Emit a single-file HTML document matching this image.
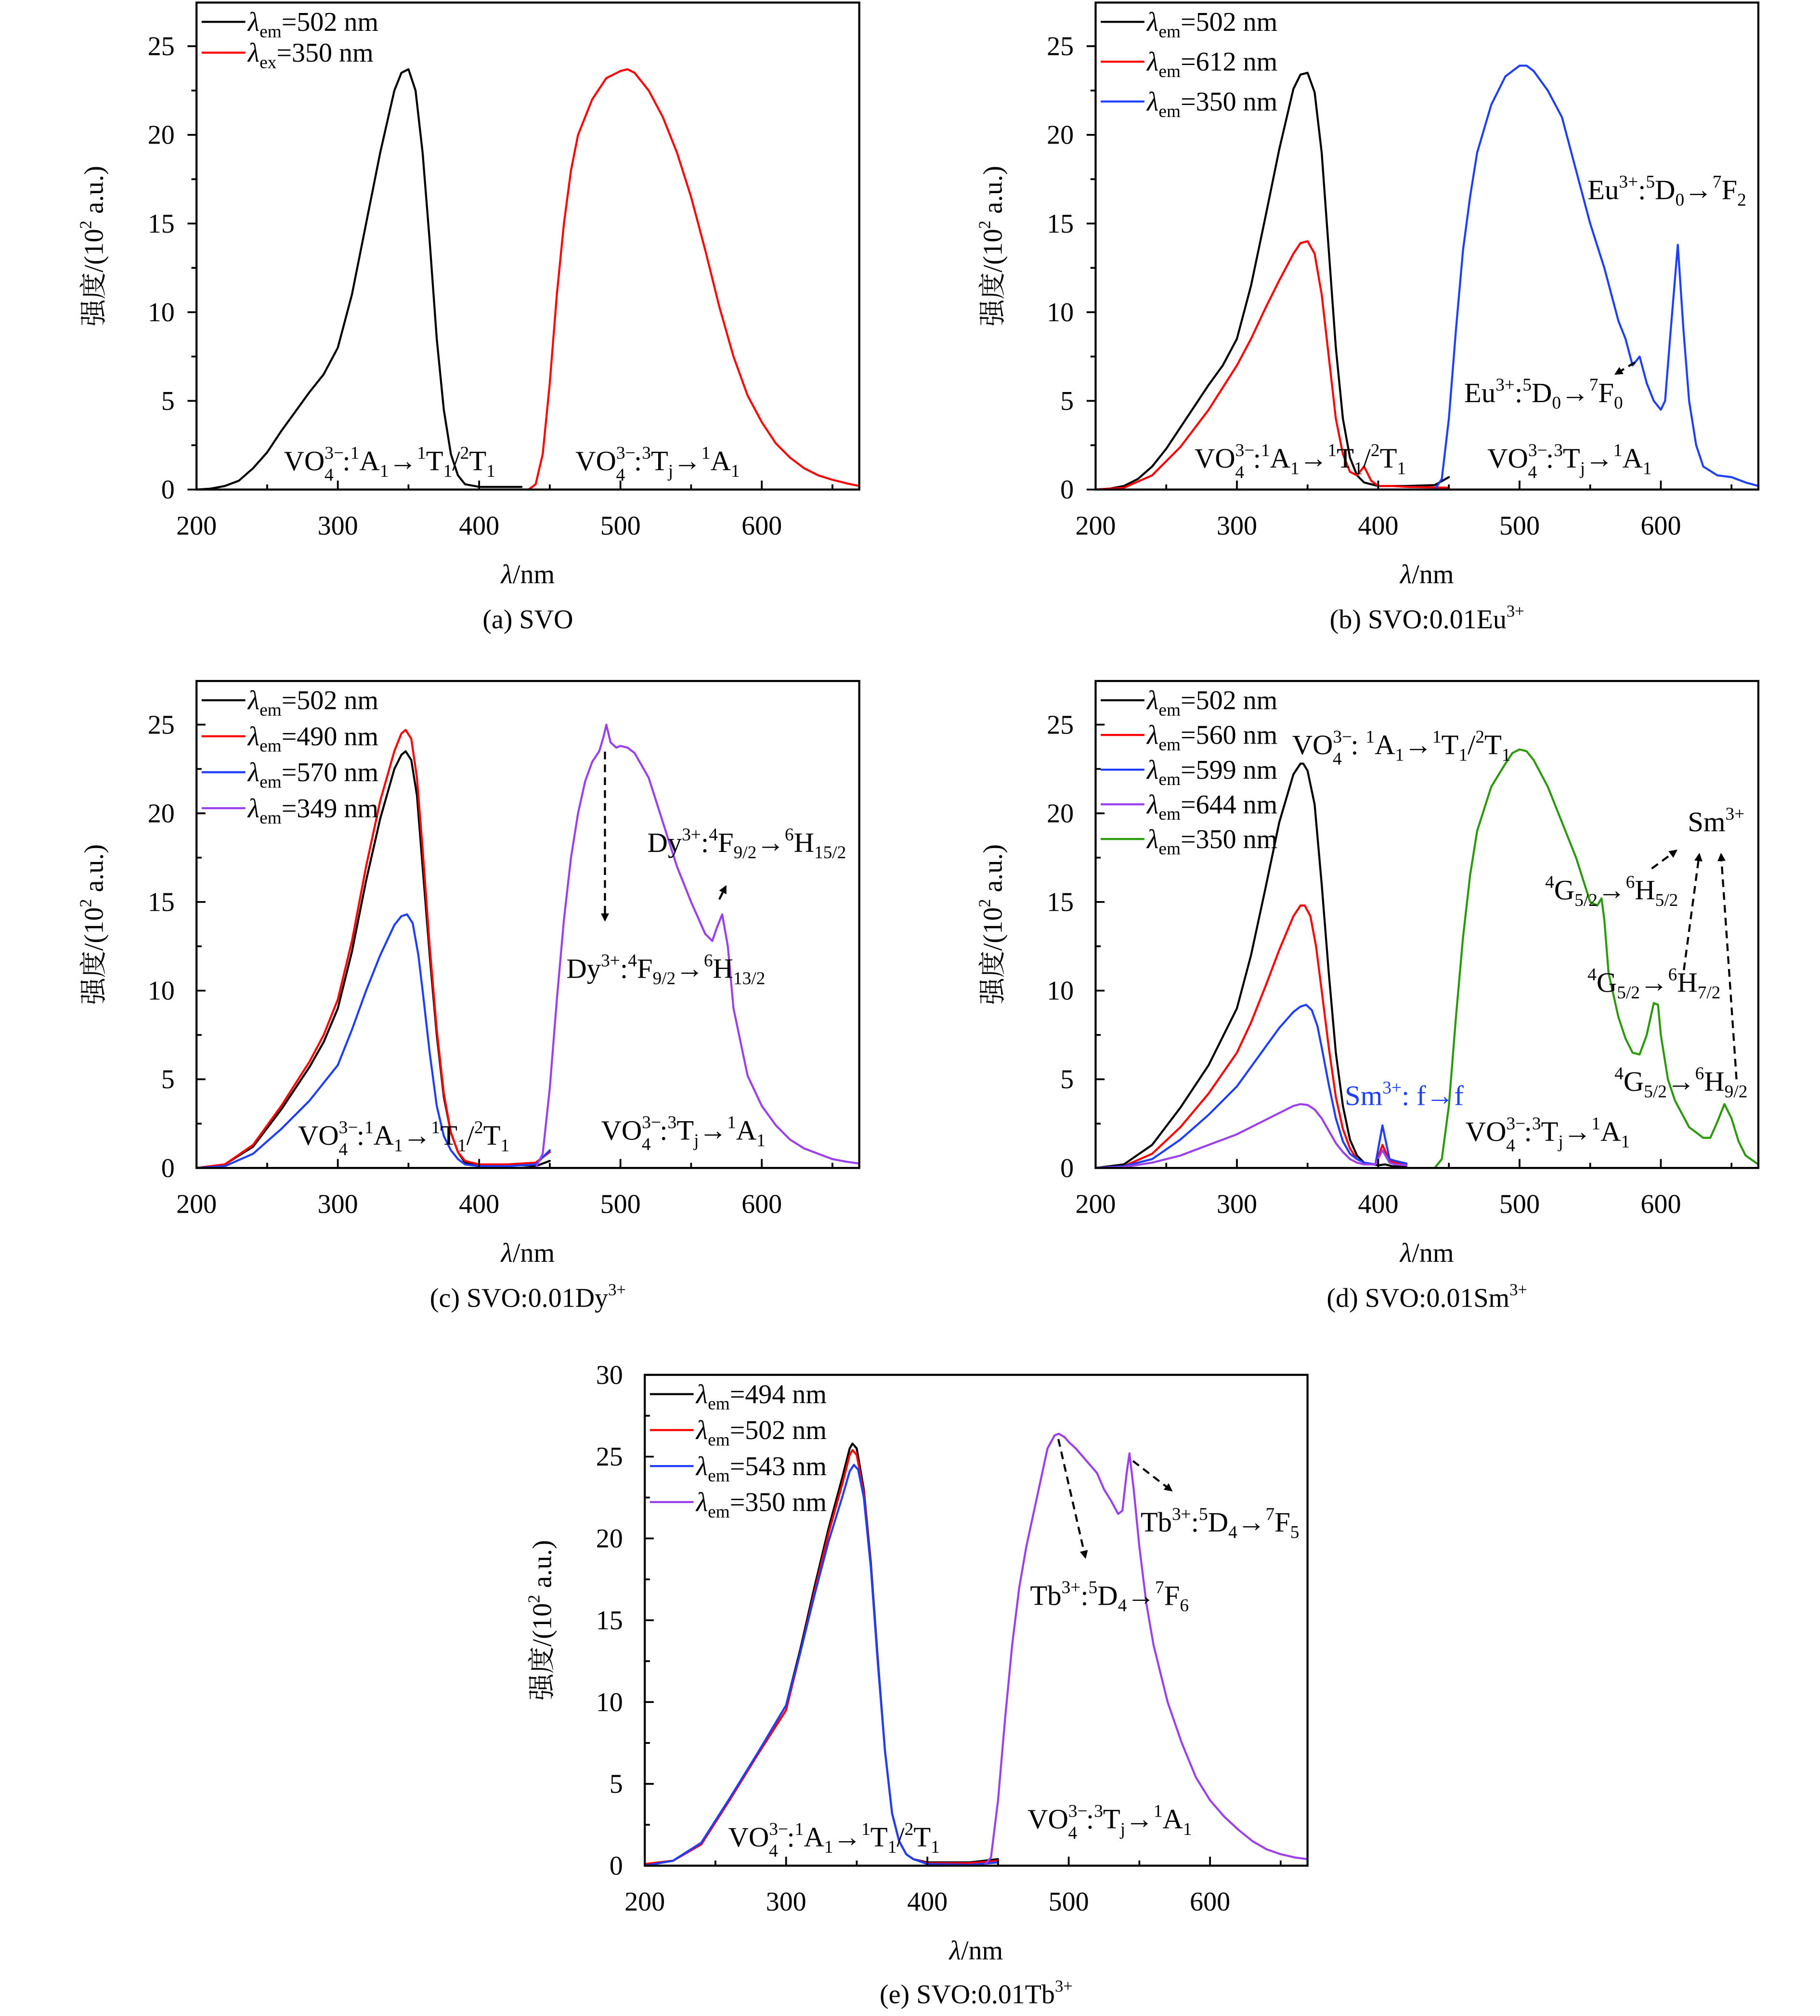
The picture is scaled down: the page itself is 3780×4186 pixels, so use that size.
<!DOCTYPE html>
<html><head><meta charset="utf-8">
<style>
html,body{margin:0;padding:0;background:#fff;}
svg{display:block;}
text{font-family:"Liberation Serif","Noto Serif CJK SC",serif;fill:#000;}
</style></head>
<body>
<svg id="fig" width="3780" height="4186" viewBox="0 0 1417 1569" preserveAspectRatio="none" xmlns="http://www.w3.org/2000/svg">
<defs>
<marker id="ah" viewBox="0 0 10 10" refX="8" refY="5" markerWidth="4" markerHeight="4" orient="auto"><path d="M0,0 L10,5 L0,10 z" fill="#000"/></marker>
</defs>
<g id="plots"></g>

<!-- static annotation text -->
<g font-size="22">
  <!-- panel a -->
  <text x="221" y="366">VO<tspan font-size="14" dy="-9">3−</tspan><tspan font-size="14" dx="-15" dy="17">4</tspan><tspan dx="7" dy="-8">:</tspan><tspan font-size="14" dy="-9">1</tspan><tspan dy="9">A</tspan><tspan font-size="14" dy="5">1</tspan><tspan dy="-5">→</tspan><tspan font-size="14" dy="-9">1</tspan><tspan dy="9">T</tspan><tspan font-size="14" dy="5">1</tspan><tspan dy="-5">/</tspan><tspan font-size="14" dy="-9">2</tspan><tspan dy="9">T</tspan><tspan font-size="14" dy="5">1</tspan></text>
  <text x="448" y="366">VO<tspan font-size="14" dy="-9">3−</tspan><tspan font-size="14" dx="-15" dy="17">4</tspan><tspan dx="7" dy="-8">:</tspan><tspan font-size="14" dy="-9">3</tspan><tspan dy="9">T</tspan><tspan font-size="14" dy="5">j</tspan><tspan dy="-5">→</tspan><tspan font-size="14" dy="-9">1</tspan><tspan dy="9">A</tspan><tspan font-size="14" dy="5">1</tspan></text>
  <!-- panel b -->
  <text x="930" y="364">VO<tspan font-size="14" dy="-9">3−</tspan><tspan font-size="14" dx="-15" dy="17">4</tspan><tspan dx="7" dy="-8">:</tspan><tspan font-size="14" dy="-9">1</tspan><tspan dy="9">A</tspan><tspan font-size="14" dy="5">1</tspan><tspan dy="-5">→</tspan><tspan font-size="14" dy="-9">1</tspan><tspan dy="9">T</tspan><tspan font-size="14" dy="5">1</tspan><tspan dy="-5">/</tspan><tspan font-size="14" dy="-9">2</tspan><tspan dy="9">T</tspan><tspan font-size="14" dy="5">1</tspan></text>
  <text x="1158" y="364">VO<tspan font-size="14" dy="-9">3−</tspan><tspan font-size="14" dx="-15" dy="17">4</tspan><tspan dx="7" dy="-8">:</tspan><tspan font-size="14" dy="-9">3</tspan><tspan dy="9">T</tspan><tspan font-size="14" dy="5">j</tspan><tspan dy="-5">→</tspan><tspan font-size="14" dy="-9">1</tspan><tspan dy="9">A</tspan><tspan font-size="14" dy="5">1</tspan></text>
  <text x="1236" y="155">Eu<tspan font-size="14" dy="-9">3+</tspan><tspan dy="9">:</tspan><tspan font-size="14" dy="-9">5</tspan><tspan dy="9">D</tspan><tspan font-size="14" dy="5">0</tspan><tspan dy="-5">→</tspan><tspan font-size="14" dy="-9">7</tspan><tspan dy="9">F</tspan><tspan font-size="14" dy="5">2</tspan></text>
  <text x="1140" y="313">Eu<tspan font-size="14" dy="-9">3+</tspan><tspan dy="9">:</tspan><tspan font-size="14" dy="-9">5</tspan><tspan dy="9">D</tspan><tspan font-size="14" dy="5">0</tspan><tspan dy="-5">→</tspan><tspan font-size="14" dy="-9">7</tspan><tspan dy="9">F</tspan><tspan font-size="14" dy="5">0</tspan></text>
  <!-- panel c -->
  <text x="232" y="891">VO<tspan font-size="14" dy="-9">3−</tspan><tspan font-size="14" dx="-15" dy="17">4</tspan><tspan dx="7" dy="-8">:</tspan><tspan font-size="14" dy="-9">1</tspan><tspan dy="9">A</tspan><tspan font-size="14" dy="5">1</tspan><tspan dy="-5">→</tspan><tspan font-size="14" dy="-9">1</tspan><tspan dy="9">T</tspan><tspan font-size="14" dy="5">1</tspan><tspan dy="-5">/</tspan><tspan font-size="14" dy="-9">2</tspan><tspan dy="9">T</tspan><tspan font-size="14" dy="5">1</tspan></text>
  <text x="468" y="887">VO<tspan font-size="14" dy="-9">3−</tspan><tspan font-size="14" dx="-15" dy="17">4</tspan><tspan dx="7" dy="-8">:</tspan><tspan font-size="14" dy="-9">3</tspan><tspan dy="9">T</tspan><tspan font-size="14" dy="5">j</tspan><tspan dy="-5">→</tspan><tspan font-size="14" dy="-9">1</tspan><tspan dy="9">A</tspan><tspan font-size="14" dy="5">1</tspan></text>
  <text x="504" y="663">Dy<tspan font-size="14" dy="-9">3+</tspan><tspan dy="9">:</tspan><tspan font-size="14" dy="-9">4</tspan><tspan dy="9">F</tspan><tspan font-size="14" dy="5">9/2</tspan><tspan dy="-5">→</tspan><tspan font-size="14" dy="-9">6</tspan><tspan dy="9">H</tspan><tspan font-size="14" dy="5">15/2</tspan></text>
  <text x="441" y="761">Dy<tspan font-size="14" dy="-9">3+</tspan><tspan dy="9">:</tspan><tspan font-size="14" dy="-9">4</tspan><tspan dy="9">F</tspan><tspan font-size="14" dy="5">9/2</tspan><tspan dy="-5">→</tspan><tspan font-size="14" dy="-9">6</tspan><tspan dy="9">H</tspan><tspan font-size="14" dy="5">13/2</tspan></text>
  <!-- panel d -->
  <text x="1006" y="587">VO<tspan font-size="14" dy="-9">3−</tspan><tspan font-size="14" dx="-15" dy="17">4</tspan><tspan dx="7" dy="-8">: </tspan><tspan font-size="14" dy="-9">1</tspan><tspan dy="9">A</tspan><tspan font-size="14" dy="5">1</tspan><tspan dy="-5">→</tspan><tspan font-size="14" dy="-9">1</tspan><tspan dy="9">T</tspan><tspan font-size="14" dy="5">1</tspan><tspan dy="-5">/</tspan><tspan font-size="14" dy="-9">2</tspan><tspan dy="9">T</tspan><tspan font-size="14" dy="5">1</tspan></text>
  <text x="1141" y="888">VO<tspan font-size="14" dy="-9">3−</tspan><tspan font-size="14" dx="-15" dy="17">4</tspan><tspan dx="7" dy="-8">:</tspan><tspan font-size="14" dy="-9">3</tspan><tspan dy="9">T</tspan><tspan font-size="14" dy="5">j</tspan><tspan dy="-5">→</tspan><tspan font-size="14" dy="-9">1</tspan><tspan dy="9">A</tspan><tspan font-size="14" dy="5">1</tspan></text>
  <text x="1047" y="860" fill="#1f3fff" style="fill:#1f3fff">Sm<tspan font-size="14" dy="-9">3+</tspan><tspan dy="9">: f→f</tspan></text>
  <text x="1314" y="647">Sm<tspan font-size="14" dy="-9">3+</tspan></text>
  <text x="1203" y="700"><tspan font-size="14" dy="-9">4</tspan><tspan dy="9">G</tspan><tspan font-size="14" dy="5">5/2</tspan><tspan dy="-5">→</tspan><tspan font-size="14" dy="-9">6</tspan><tspan dy="9">H</tspan><tspan font-size="14" dy="5">5/2</tspan></text>
  <text x="1236" y="772"><tspan font-size="14" dy="-9">4</tspan><tspan dy="9">G</tspan><tspan font-size="14" dy="5">5/2</tspan><tspan dy="-5">→</tspan><tspan font-size="14" dy="-9">6</tspan><tspan dy="9">H</tspan><tspan font-size="14" dy="5">7/2</tspan></text>
  <text x="1257" y="849"><tspan font-size="14" dy="-9">4</tspan><tspan dy="9">G</tspan><tspan font-size="14" dy="5">5/2</tspan><tspan dy="-5">→</tspan><tspan font-size="14" dy="-9">6</tspan><tspan dy="9">H</tspan><tspan font-size="14" dy="5">9/2</tspan></text>
  <!-- panel e -->
  <text x="567" y="1437">VO<tspan font-size="14" dy="-9">3−</tspan><tspan font-size="14" dx="-15" dy="17">4</tspan><tspan dx="7" dy="-8">:</tspan><tspan font-size="14" dy="-9">1</tspan><tspan dy="9">A</tspan><tspan font-size="14" dy="5">1</tspan><tspan dy="-5">→</tspan><tspan font-size="14" dy="-9">1</tspan><tspan dy="9">T</tspan><tspan font-size="14" dy="5">1</tspan><tspan dy="-5">/</tspan><tspan font-size="14" dy="-9">2</tspan><tspan dy="9">T</tspan><tspan font-size="14" dy="5">1</tspan></text>
  <text x="800" y="1423">VO<tspan font-size="14" dy="-9">3−</tspan><tspan font-size="14" dx="-15" dy="17">4</tspan><tspan dx="7" dy="-8">:</tspan><tspan font-size="14" dy="-9">3</tspan><tspan dy="9">T</tspan><tspan font-size="14" dy="5">j</tspan><tspan dy="-5">→</tspan><tspan font-size="14" dy="-9">1</tspan><tspan dy="9">A</tspan><tspan font-size="14" dy="5">1</tspan></text>
  <text x="888" y="1192">Tb<tspan font-size="14" dy="-9">3+</tspan><tspan dy="9">:</tspan><tspan font-size="14" dy="-9">5</tspan><tspan dy="9">D</tspan><tspan font-size="14" dy="5">4</tspan><tspan dy="-5">→</tspan><tspan font-size="14" dy="-9">7</tspan><tspan dy="9">F</tspan><tspan font-size="14" dy="5">5</tspan></text>
  <text x="802" y="1249">Tb<tspan font-size="14" dy="-9">3+</tspan><tspan dy="9">:</tspan><tspan font-size="14" dy="-9">5</tspan><tspan dy="9">D</tspan><tspan font-size="14" dy="5">4</tspan><tspan dy="-5">→</tspan><tspan font-size="14" dy="-9">7</tspan><tspan dy="9">F</tspan><tspan font-size="14" dy="5">6</tspan></text>
</g>

<g stroke="#000" stroke-width="1.6" stroke-dasharray="6,4" fill="none">
  <line x1="1273" y1="282" x2="1258" y2="291" marker-end="url(#ah)"/>
  <line x1="471" y1="585" x2="471" y2="716" marker-end="url(#ah)"/>
  <line x1="560" y1="700" x2="565" y2="690" marker-end="url(#ah)"/>
  <line x1="1286" y1="676" x2="1305" y2="662" marker-end="url(#ah)"/>
  <line x1="1311" y1="755" x2="1323" y2="665" marker-end="url(#ah)"/>
  <line x1="1352" y1="840" x2="1340" y2="665" marker-end="url(#ah)"/>
  <line x1="824" y1="1120" x2="845" y2="1212" marker-end="url(#ah)"/>
  <line x1="882" y1="1137" x2="912" y2="1160" marker-end="url(#ah)"/>
</g>
</svg>

<script>
// ---------- data ----------
const xTicks = [200, 300, 400, 500, 600];
const yTicksAD = [0, 5, 10, 15, 20, 25];
const yTicksE = [0, 5, 10, 15, 20, 25, 30];

// panel a
const aExcX = [200,210,220,230,240,250,260,270,280,290,300,310,320,330,340,345,350,355,360,365,370,375,380,385,390,400,430];
const aExcY = [0,0.05,0.2,0.5,1.2,2.1,3.3,4.4,5.5,6.5,8,11,15,19,22.5,23.5,23.7,22.5,19,14,8.5,4.5,2,0.8,0.3,0.15,0.15];
const aEmX = [400,435,440,445,450,455,460,465,470,480,490,500,505,510,520,530,540,550,560,570,580,590,600,610,620,630,640,650,660,669];
const aEmY = [0,0,0.3,2,6,11,15,18,20,22,23.2,23.6,23.7,23.5,22.5,21,19,16.5,13.5,10.3,7.5,5.3,3.8,2.6,1.8,1.2,0.8,0.55,0.35,0.2];

// panel b
const bBlkX = [200,210,220,230,240,250,260,270,280,290,300,310,320,330,340,345,350,355,360,365,370,375,380,385,390,400,420,440,450];
const bBlkY = [0,0.05,0.2,0.6,1.3,2.3,3.5,4.7,5.9,7,8.5,11.5,15.3,19.2,22.6,23.4,23.5,22.4,19,13.5,8,4,1.8,0.8,0.4,0.2,0.2,0.25,0.7];
const bRedX = [200,220,240,260,280,300,310,320,330,340,345,350,355,360,365,370,375,380,385,390,395,400,410,420,450];
const bRedY = [0,0.1,0.8,2.4,4.5,7,8.5,10.2,11.8,13.3,13.9,14,13.3,11,7.5,4,2,1,0.8,1.3,0.5,0.2,0.2,0.15,0.1];
const bBluX = [400,440,445,450,455,460,465,470,480,490,500,505,510,520,530,540,550,560,570,575,580,585,590,595,600,603,607,612,616,620,625,630,640,650,660,669];
const bBluY = [0,0,0.6,4,9,13.5,16.5,19,21.7,23.3,23.9,23.9,23.6,22.5,21,18,15,12.5,9.5,8.5,7,7.5,6,5,4.5,5,9,13.8,9,5,2.5,1.3,0.8,0.7,0.4,0.2];

// panel c
const cBlkX = [200,220,240,260,280,290,300,310,320,330,340,345,348,352,356,360,365,370,375,380,385,390,400,420,440,450];
const cBlkY = [0,0.2,1.2,3.3,5.7,7.1,9,12.2,16.2,19.7,22.5,23.3,23.5,23,21,17,12,7.5,4,2,0.9,0.3,0.1,0.2,0.1,0.4];
const cRedX = [200,220,240,260,280,290,300,310,320,330,340,345,348,352,356,360,365,370,375,380,385,390,400,420,440,450];
const cRedY = [0,0.2,1.3,3.5,6,7.5,9.5,12.8,17,20.7,23.5,24.5,24.7,24.2,22,18,12.5,7.8,4.2,2,0.9,0.4,0.2,0.2,0.3,0.9];
const cBluX = [200,220,240,260,280,300,310,320,330,340,345,349,353,357,360,365,370,375,380,385,390,400,420,440,450];
const cBluY = [0,0.1,0.8,2.2,3.8,5.8,7.8,10,12,13.7,14.2,14.3,13.8,12,10,6.5,3.5,1.8,1,0.5,0.2,0.1,0.1,0.2,1];
const cPurX = [400,440,445,450,455,460,465,470,475,480,485,488,490,493,497,500,505,510,520,530,540,550,560,565,568,572,576,580,590,600,610,620,630,640,650,660,669];
const cPurY = [0,0,0.8,4.5,9.5,14,17.5,20,21.8,22.9,23.5,24.3,25,24,23.7,23.8,23.7,23.4,22,19.5,17,15,13.2,12.8,13.5,14.3,12.5,9,5.2,3.5,2.4,1.6,1.1,0.8,0.5,0.35,0.25];

// panel d
const dBlkX = [200,220,240,260,280,300,310,320,330,340,345,347,350,355,360,365,370,375,380,385,390,400,405,410,420];
const dBlkY = [0,0.2,1.3,3.4,5.8,9,12,15.7,19.5,22.2,22.8,22.8,22.4,20.5,16,11,6.5,3.5,1.6,0.7,0.3,0.15,0.2,0.1,0.05];
const dRedX = [200,220,240,260,280,300,310,320,330,340,345,348,352,356,360,365,370,375,380,385,390,398,403,408,412,420];
const dRedY = [0,0.1,0.8,2.3,4.2,6.5,8.2,10.2,12.3,14.2,14.8,14.8,14.2,12.5,10,6.8,4,2.2,1.1,0.5,0.3,0.2,1.3,0.4,0.3,0.2];
const dBluX = [200,220,240,260,280,300,310,320,330,340,345,349,353,357,360,365,370,375,380,385,390,398,403,408,412,420];
const dBluY = [0,0.1,0.5,1.6,3,4.6,5.7,6.8,7.9,8.8,9.1,9.2,8.9,8,6.8,4.7,2.8,1.5,0.8,0.5,0.3,0.2,2.4,0.5,0.4,0.25];
const dPurX = [200,220,240,260,280,300,310,320,330,340,345,350,355,360,365,370,375,380,385,390,398,403,408,412,420];
const dPurY = [0,0.05,0.3,0.7,1.3,1.9,2.3,2.7,3.1,3.5,3.6,3.55,3.3,2.8,2.1,1.4,0.9,0.5,0.3,0.2,0.2,1,0.3,0.2,0.15];
const dGrnX = [400,440,445,450,455,460,465,470,480,490,495,500,505,510,520,530,540,550,555,558,560,563,570,575,580,585,590,595,598,600,605,610,620,630,635,640,645,650,655,660,669];
const dGrnY = [0,0,0.5,3.5,8.5,13,16.5,19,21.5,22.8,23.4,23.6,23.5,23,21.5,19.5,17.5,15,14.8,15.2,14,11,8.5,7.3,6.5,6.4,7.5,9.3,9.2,7.5,5,3.8,2.3,1.7,1.7,2.6,3.6,2.8,1.5,0.7,0.2];

// panel e
const eBlkX = [200,220,240,260,280,300,310,320,330,340,345,347,350,355,360,365,370,375,380,385,390,400,430,450];
const eBlkY = [0.1,0.3,1.4,4.1,6.9,9.8,13.2,17,20.6,23.8,25.5,25.8,25.5,23,18.5,12.5,7,3.2,1.5,0.7,0.4,0.2,0.2,0.4];
const eRedX = [200,220,240,260,280,300,310,320,330,340,345,347,350,355,360,365,370,375,380,385,390,400,430,450];
const eRedY = [0.1,0.3,1.3,4,6.8,9.5,13,16.7,20.3,23.4,25.1,25.4,25.1,22.8,18.3,12.3,7,3.2,1.5,0.7,0.4,0.15,0.15,0.3];
const eBluX = [200,220,240,260,280,300,310,320,330,340,345,348,351,355,360,365,370,375,380,385,390,400,430,450];
const eBluY = [0,0.3,1.4,4.1,6.9,9.8,13,16.5,19.8,22.6,24.1,24.5,24.2,22.5,18.2,12.3,7,3.2,1.5,0.7,0.4,0.1,0.05,0.2];
const ePurX = [400,440,445,450,455,460,465,470,475,480,485,490,493,497,500,505,510,520,525,530,535,538,541,543,546,550,555,560,570,580,590,600,610,620,630,640,650,660,669];
const ePurY = [0,0,0.5,4,9,13.5,17,19.5,21.5,23.5,25.5,26.3,26.4,26.2,25.9,25.5,25,24,23,22.3,21.5,21.7,24,25.2,23,19.5,16,13.5,10,7.5,5.4,4,3,2.2,1.5,1.0,0.7,0.5,0.4];

const panels = [
  {id:'a', x0:153, y0:2, x1:669, y1:381, ymax:27.46, yticks:yTicksAD, minorY:2.5, caption:'(a) SVO', capX:411, capY:489,
   series:[{n:'em502', c:'#000', x:aExcX, y:aExcY},{n:'ex350', c:'#f00', x:aEmX, y:aEmY}],
   legend:[['#000','em','=502 nm'],['#f00','ex','=350 nm']]},
  {id:'b', x0:853, y0:2, x1:1369, y1:381, ymax:27.46, yticks:yTicksAD, minorY:2.5, caption:'(b) SVO:0.01Eu', capSup:'3+', capX:1111, capY:489,
   series:[{n:'em502', c:'#000', x:bBlkX, y:bBlkY},{n:'em612', c:'#f00', x:bRedX, y:bRedY},{n:'em350', c:'#1f3fff', x:bBluX, y:bBluY}],
   legend:[['#000','em','=502 nm'],['#f00','em','=612 nm'],['#1f3fff','em','=350 nm']], legDy:31},
  {id:'c', x0:153, y0:530, x1:669, y1:909, ymax:27.46, yticks:yTicksAD, minorY:2.5, caption:'(c) SVO:0.01Dy', capSup:'3+', capX:411, capY:1017,
   series:[{n:'em502', c:'#000', x:cBlkX, y:cBlkY},{n:'em490', c:'#f00', x:cRedX, y:cRedY},{n:'em570', c:'#1f3fff', x:cBluX, y:cBluY},{n:'em349', c:'#9b3fef', x:cPurX, y:cPurY}],
   legend:[['#000','em','=502 nm'],['#f00','em','=490 nm'],['#1f3fff','em','=570 nm'],['#9b3fef','em','=349 nm']], legDy:28},
  {id:'d', x0:853, y0:530, x1:1369, y1:909, ymax:27.46, yticks:yTicksAD, minorY:2.5, caption:'(d) SVO:0.01Sm', capSup:'3+', capX:1111, capY:1017,
   series:[{n:'em502', c:'#000', x:dBlkX, y:dBlkY},{n:'em560', c:'#f00', x:dRedX, y:dRedY},{n:'em599', c:'#1f3fff', x:dBluX, y:dBluY},{n:'em644', c:'#9b3fef', x:dPurX, y:dPurY},{n:'em350', c:'#2b9a0a', x:dGrnX, y:dGrnY}],
   legend:[['#000','em','=502 nm'],['#f00','em','=560 nm'],['#1f3fff','em','=599 nm'],['#9b3fef','em','=644 nm'],['#2b9a0a','em','=350 nm']], legDy:27},
  {id:'e', x0:502, y0:1070, x1:1018, y1:1452, ymax:30, yticks:yTicksE, minorY:2.5, caption:'(e) SVO:0.01Tb', capSup:'3+', capX:760, capY:1559,
   series:[{n:'em494', c:'#000', x:eBlkX, y:eBlkY},{n:'em502', c:'#f00', x:eRedX, y:eRedY},{n:'em543', c:'#1f3fff', x:eBluX, y:eBluY},{n:'em350', c:'#9b3fef', x:ePurX, y:ePurY}],
   legend:[['#000','em','=494 nm'],['#f00','em','=502 nm'],['#1f3fff','em','=543 nm'],['#9b3fef','em','=350 nm']], legDy:28}
];

const NS = 'http://www.w3.org/2000/svg';
const root = document.getElementById('plots');
function mk(tag, attrs, parent){
  const e = document.createElementNS(NS, tag);
  for (const k in attrs) e.setAttribute(k, attrs[k]);
  parent.appendChild(e);
  return e;
}

panels.forEach(p => {
  const g = mk('g', {}, root);
  
  
  const xs = v => p.x0 + (v - 200) * (p.x1 - p.x0) / 469;
  const ys = v => p.y1 - v * (p.y1 - p.y0) / p.ymax;

  const cid = 'clip' + p.id;
  const cp = mk('clipPath', {id: cid}, g);
  mk('rect', {x:p.x0, y:p.y0, width:p.x1-p.x0, height:p.y1-p.y0}, cp);
  const cg = mk('g', {'clip-path': 'url(#' + cid + ')'}, g);
  p.series.forEach(s => {
    let d = '';
    s.x.forEach((xv, i) => { d += (i ? 'L' : 'M') + xs(xv).toFixed(2) + ',' + ys(s.y[i]).toFixed(2); });
    const path = mk('path', {d:d, fill:'none', stroke:s.c, 'stroke-width':1.6, 'stroke-linejoin':'round', 'stroke-linecap':'round'}, cg);
    
    
  });

  const fr = mk('rect', {x:p.x0, y:p.y0, width:p.x1-p.x0, height:p.y1-p.y0, fill:'none', stroke:'#000', 'stroke-width':1.6}, g);
  
  

  for (let v = 200; v <= 669; v += 50) {
    const major = v % 100 === 0;
    mk('line', {x1:xs(v), x2:xs(v), y1:p.y1, y2:p.y1 - (major ? 7 : 4), stroke:'#000', 'stroke-width':1.4}, g);
  }
  xTicks.forEach(v => {
    const t = mk('text', {x:xs(v), y:p.y1 + 35, 'text-anchor':'middle', 'font-size':21}, g);
    t.textContent = v;
    
    
  });
  const outward = (p.id === 'a' || p.id === 'b') ? -1 : 1;
  for (let v = 0; v <= p.ymax; v += p.minorY) {
    const major = Math.abs(v % 5) < 1e-6;
    mk('line', {x1:p.x0, x2:p.x0 + outward * (major ? 7 : 4), y1:ys(v), y2:ys(v), stroke:'#000', 'stroke-width':1.4}, g);
  }
  p.yticks.forEach(v => {
    const t = mk('text', {x:p.x0 - 17, y:ys(v) + 7, 'text-anchor':'end', 'font-size':21}, g);
    t.textContent = v;
    
    
  });

  const xt = mk('text', {x:(p.x0 + p.x1)/2, y:p.y1 + 73, 'text-anchor':'middle', 'font-size':21}, g);
  xt.innerHTML = '<tspan font-style="italic">λ</tspan>/nm';
  
  
  const ycx = p.x0 - 73, ycy = (p.y0 + p.y1)/2;
  const yt = mk('text', {x:ycx, y:ycy, 'text-anchor':'middle', 'font-size':21, transform:'rotate(-90 ' + ycx + ' ' + ycy + ')'}, g);
  yt.innerHTML = '强度/(10<tspan font-size="13" dy="-9">2</tspan><tspan dy="9"> a.u.)</tspan>';
  
  

  const cap = mk('text', {x:p.capX, y:p.capY, 'text-anchor':'middle', 'font-size':21}, g);
  cap.innerHTML = p.caption + (p.capSup ? '<tspan font-size="13" dy="-9">' + p.capSup + '</tspan>' : '');
  
  

  const dy = p.legDy || 24;
  p.legend.forEach((L, i) => {
    const ly = p.y0 + 15 + i * dy;
    const lg = mk('g', {}, g);
    
    
    mk('line', {x1:p.x0 + 4, x2:p.x0 + 38, y1:ly, y2:ly, stroke:L[0], 'stroke-width':1.6}, lg);
    const t = mk('text', {x:p.x0 + 40, y:ly + 7, 'font-size':21}, lg);
    t.innerHTML = '<tspan font-style="italic">λ</tspan><tspan font-size="14" dy="5">' + L[1] + '</tspan><tspan dy="-5">' + L[2] + '</tspan>';
  });
});
</script>
</body></html>
